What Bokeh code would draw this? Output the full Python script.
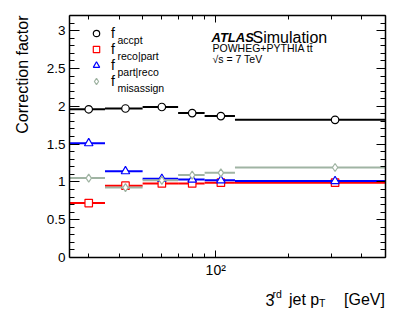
import numpy as np
from bokeh.plotting import figure
from bokeh.models import (FixedTicker, LogAxis, LinearAxis, Label, Legend,
                          LegendItem, ColumnDataSource, Range1d)
from bokeh.embed import file_html
from bokeh.resources import INLINE

# ---------------- data ----------------
bin_edges = [25, 35, 50, 70, 90, 120, 500]
bin_centers = [30, 42.5, 60, 80, 105, 310]
f_accpt = [1.96, 1.97, 1.99, 1.91, 1.87, 1.82]
f_reco_part = [0.72, 0.95, 0.98, 0.98, 0.99, 0.99]
f_part_reco = [1.51, 1.14, 1.04, 1.03, 1.02, 1.01]
f_misassign = [1.05, 0.925, 1.02, 1.09, 1.12, 1.19]

series_subscripts = ["accpt", "reco|part", "part|reco", "misassign"]
y_ticks = [0, 0.5, 1, 1.5, 2, 2.5, 3]
y_tick_labels = ["0", "0.5", "1", "1.5", "2", "2.5", "3"]
y_minor_ticks = [round(0.1 * i, 1) for i in range(0, 33) if i % 5 != 0]
x_ticks = [100]
x_tick_labels = ["10\u00b2"]
x_minor_ticks = [30, 40, 50, 60, 70, 80, 90, 200, 300, 400, 500]

X_LO, X_HI = 25, 500      # axis extent (data)
Y_LO, Y_HI = 0, 3.2

# ---------------- layout (pixels) ----------------
W, H = 407, 309
FL, FR, FT, FB = 69, 385, 15, 257   # drawn frame edges in px
dec_px = (FR - FL) / np.log10(X_HI / X_LO)
x_start = X_LO / 10 ** (FL / dec_px)
x_end = X_HI * 10 ** ((W - FR) / dec_px)
unit_px = (FB - FT) / (Y_HI - Y_LO)
y_start = Y_LO - (H - FB) / unit_px
y_end = Y_HI + FT / unit_px

FONT = "Liberation Sans"

p = figure(width=W, height=H, x_axis_type="log",
           x_range=Range1d(x_start, x_end), y_range=Range1d(y_start, y_end),
           output_backend="svg", toolbar_location=None, min_border=0)
p.xgrid.visible = False
p.ygrid.visible = False
p.outline_line_color = None
p.background_fill_color = "white"
p.border_fill_color = "white"


def style_axis(ax, major, minor):
    ax.major_tick_in = major
    ax.major_tick_out = 0
    ax.minor_tick_in = minor
    ax.minor_tick_out = 0
    ax.axis_line_width = 1.5
    ax.axis_line_color = "black"
    ax.major_tick_line_color = "black"
    ax.minor_tick_line_color = "black"
    ax.major_tick_line_width = 1
    ax.minor_tick_line_width = 1
    ax.major_label_text_font = FONT
    ax.major_label_text_color = "black"
    ax.major_label_standoff = 4


# bottom x axis
xax = p.xaxis[0]
xax.ticker = FixedTicker(ticks=x_ticks, minor_ticks=x_minor_ticks)
xax.major_label_overrides = dict(zip(x_ticks, x_tick_labels))
xax.fixed_location = Y_LO
xax.bounds = (X_LO, X_HI)
style_axis(xax, 7, 4)
xax.major_label_text_font_size = "14px"

# left y axis
yax = p.yaxis[0]
yax.ticker = FixedTicker(ticks=y_ticks, minor_ticks=y_minor_ticks)
yax.major_label_overrides = dict(zip(y_ticks, y_tick_labels))
yax.fixed_location = X_LO
yax.bounds = (Y_LO, Y_HI)
style_axis(yax, 10, 5)
yax.major_label_text_font_size = "13.5px"

# mirrored axes (ticks only)
top = LogAxis(ticker=FixedTicker(ticks=x_ticks, minor_ticks=x_minor_ticks),
              major_label_overrides={t: "" for t in x_ticks},
              fixed_location=Y_HI, bounds=(X_LO, X_HI))
style_axis(top, 7, 4)
p.add_layout(top, "above")

right = LinearAxis(ticker=FixedTicker(ticks=y_ticks, minor_ticks=y_minor_ticks),
                   major_label_overrides={t: "" for t in y_ticks},
                   fixed_location=X_HI, bounds=(Y_LO, Y_HI))
style_axis(right, 9, 5)
p.add_layout(right, "right")

# ---------------- series ----------------
series = [
    (f_accpt, "black", "circle", 7.5),
    (f_reco_part, "#ff0000", "square", 7.5),
    (f_part_reco, "#0000ff", "triangle", 8.5),
    (f_misassign, "#a0b4a3", "diamond", 8),
]

marker_renderers = []
for vals, color, marker, size in series:
    src = ColumnDataSource(dict(x=bin_centers, lo=bin_edges[:-1],
                                hi=bin_edges[1:], y=vals))
    p.segment(x0="lo", x1="hi", y0="y", y1="y", source=src,
              line_color=color, line_width=2)
    r = p.scatter(x="x", y="y", source=src, marker=marker, size=size,
                  fill_color="white", line_color=color, line_width=1.2)
    marker_renderers.append(r)

# ---------------- legend ----------------
legend = Legend(items=[LegendItem(label="f", renderers=[r]) for r in marker_renderers],
                location=(88, 220), orientation="vertical", padding=0, margin=0,
                spacing=0, glyph_width=16, glyph_height=16, label_height=16,
                label_standoff=7, label_text_font=FONT, label_text_font_size="14px",
                label_text_baseline="alphabetic", label_text_color="black",
                border_line_alpha=0, background_fill_alpha=0)
p.add_layout(legend)


def add_text(x, y, text, size, **kw):
    p.add_layout(Label(x=x, y=y, x_units="screen", y_units="screen", text=text,
                       text_font=FONT, text_font_size=size, text_color="black",
                       text_baseline="alphabetic", **kw))


for i, sub in enumerate(series_subscripts):
    add_text(117, 269.5 - 16 * i, sub, "10.5px")

# ---------------- ATLAS labels ----------------
add_text(211, 272, "ATLAS", "13px", text_font_style="bold italic")
add_text(252, 272, "Simulation", "16px")
add_text(212, 261.5, "POWHEG+PYTHIA tt\u0304", "10.5px")
add_text(212, 250.5, "\u221as = 7 TeV", "10.5px")

# ---------------- axis titles ----------------
add_text(21.5, 294, "Correction factor", "16px", angle=np.pi / 2, text_align="right")

add_text(265, 10, "3", "16px")
add_text(272, 16, "rd", "10.5px")
add_text(288.5, 10, "jet p", "16px")
add_text(318.5, 6.5, "T", "10.5px")
add_text(343.5, 10, "[GeV]", "16px")

open("out.html", "w").write(file_html(p, INLINE))
